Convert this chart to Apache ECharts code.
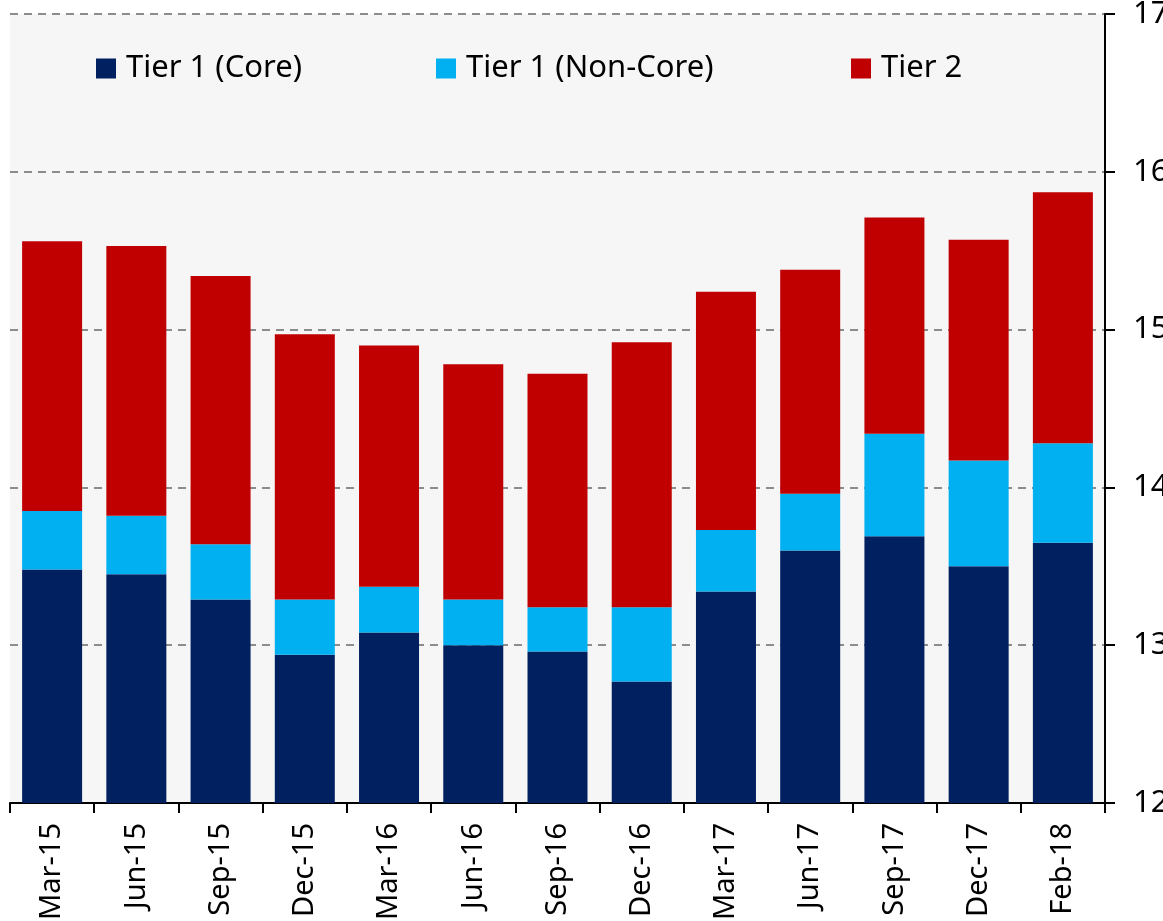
<!DOCTYPE html>
<html>
<head>
<meta charset="utf-8">
<script src="https://cdn.jsdelivr.net/npm/echarts@6/dist/echarts.min.js"></script>
<style>
  html, body { margin: 0; padding: 0; background: #fff; }
  #main { width: 1163px; height: 921px; }
</style>
</head>
<body>
<div id="main"></div>
<script>
// categories and values (stack base is the 12 floor of the axis)
var categories = ['Mar-15', 'Jun-15', 'Sep-15', 'Dec-15', 'Mar-16', 'Jun-16', 'Sep-16',
  'Dec-16', 'Mar-17', 'Jun-17', 'Sep-17', 'Dec-17', 'Feb-18'];
var tier1Core = [13.48, 13.45, 13.29, 12.94, 13.08, 13.00, 12.96, 12.77, 13.34, 13.60, 13.69, 13.50, 13.65];
var tier1NonCore = [0.37, 0.37, 0.35, 0.35, 0.29, 0.29, 0.28, 0.47, 0.39, 0.36, 0.65, 0.67, 0.63];
var tier2 = [1.71, 1.71, 1.70, 1.68, 1.53, 1.49, 1.48, 1.68, 1.51, 1.42, 1.37, 1.40, 1.59];
var yTicks = [12, 13, 14, 15, 16, 17];
var seriesNames = ['Tier 1 (Core)', 'Tier 1 (Non-Core)', 'Tier 2'];

var font = 'Noto Sans, Open Sans, sans-serif';
var chart = echarts.init(document.getElementById('main'));

// one legend per item so each sits where the original puts it
var legendLeft = [96, 436, 851];
var legends = seriesNames.map(function (name, i) {
  return {
    top: 53,
    left: legendLeft[i],
    padding: 0,
    itemGap: 0,
    itemWidth: 20,
    itemHeight: 20,
    icon: 'rect',
    textStyle: { fontSize: 31, color: '#000', fontFamily: font, padding: [0, 0, 0, 5] },
    data: [name]
  };
});

chart.setOption({
  animation: false,
  backgroundColor: '#fff',
  textStyle: { fontFamily: font },
  grid: {
    left: 10, right: 58, top: 14, bottom: 118,
    outerBoundsMode: 'none',
    show: true, backgroundColor: '#f6f6f6', borderWidth: 0
  },
  legend: legends,
  xAxis: {
    type: 'category',
    data: categories,
    axisLine: { lineStyle: { color: '#000', width: 2 } },
    axisTick: { show: true, length: 10, lineStyle: { color: '#000', width: 2 } },
    axisLabel: { rotate: 90, fontSize: 29, color: '#000', margin: 20 },
    splitLine: { show: false }
  },
  yAxis: {
    type: 'value',
    position: 'right',
    min: yTicks[0],
    max: yTicks[yTicks.length - 1],
    interval: 1,
    axisLine: { show: true, lineStyle: { color: '#000', width: 2 } },
    axisTick: { show: true, length: 10, lineStyle: { color: '#000', width: 2 } },
    axisLabel: { fontSize: 31, color: '#000', margin: 28 },
    splitLine: { lineStyle: { color: '#8c8c8c', type: [8, 6], width: 2 } }
  },
  series: [
    {
      name: seriesNames[0], type: 'bar', stack: 'total', barWidth: 60,
      itemStyle: { color: '#002060' }, data: tier1Core
    },
    {
      name: seriesNames[1], type: 'bar', stack: 'total', barWidth: 60,
      itemStyle: { color: '#00b0f0' }, data: tier1NonCore
    },
    {
      name: seriesNames[2], type: 'bar', stack: 'total', barWidth: 60,
      itemStyle: { color: '#c00000' }, data: tier2
    }
  ]
});
</script>
</body>
</html>
